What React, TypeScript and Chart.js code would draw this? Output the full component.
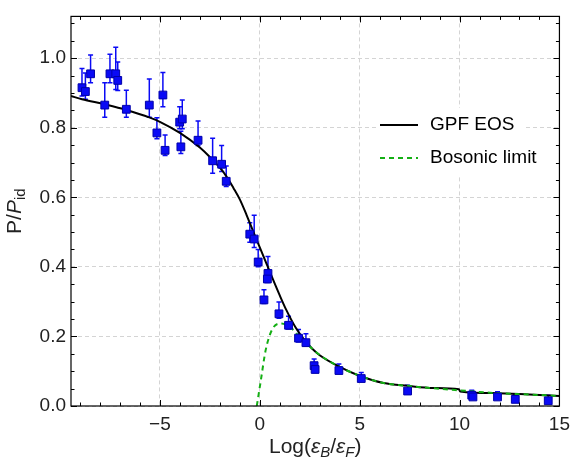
import React, { useEffect, useRef } from 'react';
import { Chart, registerables } from 'chart.js';

Chart.register(...registerables);

// ---------- data ----------
const expX = [-8.90, -8.73, -8.47, -7.76, -7.50, -7.21, -7.11, -6.68, -5.53, -4.85, -5.15, -4.74, -4.01, -3.88, -3.95, -3.09, -2.36, -1.91, -1.68,
  -0.50, -0.28, -0.08, 0.41, 0.38, 0.21, 0.96, 1.44, 1.94, 2.31, 2.72, 2.77, 3.96, 5.08, 7.40, 10.61, 10.67, 11.90, 12.79, 14.44];
const expY = [0.915, 0.904, 0.955, 0.865, 0.955, 0.955, 0.936, 0.853, 0.865, 0.894, 0.785, 0.735, 0.816, 0.825, 0.745, 0.764, 0.705, 0.695, 0.646,
  0.494, 0.480, 0.414, 0.381, 0.365, 0.305, 0.265, 0.232, 0.195, 0.182, 0.116, 0.105, 0.102, 0.079, 0.043, 0.031, 0.026, 0.026, 0.019, 0.015];
const expHi = [0.970, 0.957, 1.009, 0.929, 1.011, 1.031, 0.989, 0.908, 0.940, 0.959, 0.829, 0.779, 0.860, 0.880, 0.790, 0.819, 0.770, 0.749, 0.690,
  0.527, 0.548, 0.450, 0.430, 0.375, 0.334, 0.299, 0.258, 0.220, 0.208, 0.135, 0.113, 0.121, 0.096, 0.060, 0.045, 0.040, 0.041, 0.034, 0.031];
const expLo = [0.891, 0.882, 0.929, 0.830, 0.929, 0.910, 0.907, 0.830, 0.830, 0.860, 0.768, 0.720, 0.797, 0.797, 0.726, 0.749, 0.669, 0.674, 0.631,
  0.471, 0.456, 0.400, 0.363, 0.355, 0.295, 0.252, 0.221, 0.184, 0.173, 0.108, 0.096, 0.094, 0.071, 0.037, 0.026, 0.020, 0.020, 0.014, 0.009];

const gpfX = [-9.45, -8.9, -7.76, -6.68, -5.5, -5, -4, -3, -2.5, -2, -1.68, -1.32, -1.0, -0.66, -0.33, 0, 0.33, 0.66, 1.0, 1.32, 1.81, 2.31, 2.64, 3.0, 3.88, 4.86, 6.2, 7.4, 8.7, 9.97, 10.03, 11.83, 13.5, 15];
const gpfY = [0.891, 0.882, 0.867, 0.851, 0.829, 0.817, 0.785, 0.743, 0.716, 0.685, 0.661, 0.627, 0.594, 0.549, 0.502, 0.456, 0.410, 0.364, 0.318, 0.277, 0.224, 0.184, 0.164, 0.146, 0.116, 0.090, 0.066, 0.058, 0.052, 0.048, 0.042, 0.037, 0.033, 0.029];

const bosX = [-0.15, 0.03, 0.3, 0.63, 1.05, 1.52, 1.96, 2.34, 2.92, 3.88, 4.86, 6.2, 7.4, 8.7, 10, 11.83, 13.5, 15];
const bosY = [0.0, 0.065, 0.162, 0.221, 0.237, 0.227, 0.201, 0.180, 0.150, 0.116, 0.090, 0.066, 0.058, 0.051, 0.045, 0.037, 0.033, 0.029];

const xTicks = [-5, 0, 5, 10, 15];
const yTicks = [0, 0.2, 0.4, 0.6, 0.8, 1.0];
const legendLabels = ['GPF EOS', 'Bosonic limit'];

const X_MIN = -9.45;
const X_MAX = 15;
const Y_MIN = 0;
const Y_MAX = 1.12;
const X_MINOR = 1;
const Y_MINOR = 0.05;

const FONT = '"Liberation Sans", Arial, sans-serif';
const FS = 19;
const TITLE_FS = 21;
const BLUE = 'rgb(10,10,245)';
const GREEN = 'rgb(20,175,20)';

type Seg = { t: string; it?: boolean; sub?: boolean };

function drawSegs(ctx: CanvasRenderingContext2D, segs: Seg[], cx: number, cy: number, size: number) {
  const subSize = Math.round(size * 0.72);
  const fontOf = (s: Seg) => `${s.it ? 'italic ' : ''}${s.sub ? subSize : size}px ${FONT}`;
  let total = 0;
  const widths = segs.map((s) => {
    ctx.font = fontOf(s);
    const w = ctx.measureText(s.t).width;
    total += w;
    return w;
  });
  let x = cx - total / 2;
  ctx.textBaseline = 'middle';
  ctx.textAlign = 'left';
  segs.forEach((s, i) => {
    ctx.font = fontOf(s);
    ctx.fillText(s.t, x, cy + (s.sub ? size * 0.3 : 0));
    x += widths[i];
  });
}

const framePlugin = {
  id: 'framePlugin',
  beforeDatasetsDraw(chart: any) {
    const { ctx, scales } = chart;
    const xs = scales.x;
    const ys = scales.y;
    const area = chart.chartArea;
    ctx.save();
    ctx.beginPath();
    ctx.rect(area.left, area.top, area.right - area.left, area.bottom - area.top);
    ctx.clip();
    ctx.strokeStyle = BLUE;
    ctx.lineWidth = 1.5;
    for (let i = 0; i < expX.length; i++) {
      const px = xs.getPixelForValue(expX[i]);
      const ph = ys.getPixelForValue(expHi[i]);
      const pl = ys.getPixelForValue(expLo[i]);
      ctx.beginPath();
      ctx.moveTo(px, ph);
      ctx.lineTo(px, pl);
      ctx.moveTo(px - 2.5, ph);
      ctx.lineTo(px + 2.5, ph);
      ctx.moveTo(px - 2.5, pl);
      ctx.lineTo(px + 2.5, pl);
      ctx.stroke();
    }
    ctx.restore();
  },
  afterDatasetsDraw(chart: any) {
    const { ctx, scales } = chart;
    const xs = scales.x;
    const ys = scales.y;
    const { left, right, top, bottom } = chart.chartArea;
    ctx.save();
    // frame
    ctx.strokeStyle = '#000';
    ctx.lineWidth = 1.2;
    ctx.setLineDash([]);
    ctx.strokeRect(left, top, right - left, bottom - top);
    // ticks
    ctx.lineWidth = 1;
    ctx.beginPath();
    for (let v = Math.ceil(X_MIN); v <= X_MAX + 1e-9; v += X_MINOR) {
      const px = Math.round(xs.getPixelForValue(v)) + 0.5;
      const len = v % 5 === 0 ? 6 : 3.5;
      ctx.moveTo(px, bottom);
      ctx.lineTo(px, bottom - len);
      ctx.moveTo(px, top);
      ctx.lineTo(px, top + len);
    }
    for (let k = 0; k * Y_MINOR <= Y_MAX + 1e-9; k++) {
      const v = k * Y_MINOR;
      const py = Math.round(ys.getPixelForValue(v)) + 0.5;
      const len = k % 4 === 0 ? 6 : 3.5;
      ctx.moveTo(left, py);
      ctx.lineTo(left + len, py);
      ctx.moveTo(right, py);
      ctx.lineTo(right - len, py);
    }
    ctx.stroke();

    // legend
    const lx = 377;
    const ly = 108;
    ctx.fillStyle = '#fff';
    ctx.fillRect(lx, ly, 146, 67);
    const rows = [ly + 17, ly + 50];
    ctx.lineWidth = 2;
    ctx.strokeStyle = '#000';
    ctx.beginPath();
    ctx.moveTo(lx + 3, rows[0]);
    ctx.lineTo(lx + 41, rows[0]);
    ctx.stroke();
    ctx.strokeStyle = GREEN;
    ctx.setLineDash([5, 4]);
    ctx.beginPath();
    ctx.moveTo(lx + 3, rows[1]);
    ctx.lineTo(lx + 41, rows[1]);
    ctx.stroke();
    ctx.setLineDash([]);
    ctx.fillStyle = '#000';
    ctx.font = `${FS}px ${FONT}`;
    ctx.textBaseline = 'middle';
    ctx.textAlign = 'left';
    legendLabels.forEach((t, i) => ctx.fillText(t, lx + 53, rows[i]));

    // axis titles
    ctx.fillStyle = '#222';
    drawSegs(ctx, [
      { t: 'Log(' }, { t: 'ε', it: true }, { t: 'B', it: true, sub: true }, { t: '/' },
      { t: 'ε', it: true }, { t: 'F', it: true, sub: true }, { t: ')' },
    ], (left + right) / 2, 447, TITLE_FS);
    ctx.save();
    ctx.translate(15, (top + bottom) / 2);
    ctx.rotate(-Math.PI / 2);
    drawSegs(ctx, [{ t: 'P/' }, { t: 'P', it: true }, { t: 'id', sub: true }], 0, 0, TITLE_FS);
    ctx.restore();
    ctx.restore();
  },
};

export default function App() {
  const ref = useRef<HTMLCanvasElement | null>(null);
  useEffect(() => {
    document.body.style.margin = '0';
    const canvas = ref.current;
    if (!canvas) return;
    const chart = new Chart(canvas, {
      type: 'scatter',
      data: {
        datasets: [
          {
            label: 'data',
            data: expX.map((x, i) => ({ x, y: expY[i] })),
            pointStyle: 'rect',
            pointRadius: 5.5,
            backgroundColor: BLUE,
            borderColor: 'rgb(0,0,170)',
            borderWidth: 1,
            showLine: false,
          },
          {
            label: legendLabels[1],
            data: bosX.map((x, i) => ({ x, y: bosY[i] })),
            showLine: true,
            borderColor: GREEN,
            borderWidth: 2,
            borderDash: [5, 4],
            pointRadius: 0,
            cubicInterpolationMode: 'monotone',
          },
          {
            label: legendLabels[0],
            data: gpfX.map((x, i) => ({ x, y: gpfY[i] })),
            showLine: true,
            borderColor: '#000',
            borderWidth: 2,
            pointRadius: 0,
            cubicInterpolationMode: 'monotone',
          },
        ],
      } as any,
      options: {
        animation: false,
        responsive: false,
        devicePixelRatio: 1,
        layout: { padding: { left: 0, top: 11, right: 13, bottom: 0 } },
        plugins: { legend: { display: false }, tooltip: { enabled: false } },
        scales: {
          x: {
            type: 'linear',
            min: X_MIN,
            max: X_MAX,
            afterBuildTicks: (axis: any) => {
              axis.ticks = xTicks.map((value) => ({ value }));
            },
            afterFit: (s: any) => {
              s.height = 58;
            },
            ticks: {
              autoSkip: false,
              maxRotation: 0,
              padding: 7,
              color: '#222',
              font: { family: FONT, size: FS },
              callback: (v: any) => (Number(v) < 0 ? '\u2212' + Math.abs(Number(v)) : String(v)),
            },
            grid: { color: '#d4d4d4', drawTicks: false, lineWidth: 1 },
            border: { display: false, dash: [4, 3] },
          },
          y: {
            type: 'linear',
            min: Y_MIN,
            max: Y_MAX,
            afterBuildTicks: (axis: any) => {
              axis.ticks = yTicks.map((value) => ({ value }));
            },
            afterFit: (s: any) => {
              s.width = 71;
            },
            ticks: {
              autoSkip: false,
              padding: 5,
              color: '#222',
              font: { family: FONT, size: FS },
              callback: (v: any) => Number(v).toFixed(1),
            },
            grid: { color: '#d4d4d4', drawTicks: false, lineWidth: 1 },
            border: { display: false, dash: [4, 3] },
          },
        },
      } as any,
      plugins: [framePlugin],
    });
    return () => chart.destroy();
  }, []);
  return (
    <div style={{ width: 577, height: 464 }}>
      <canvas ref={ref} width={577} height={464} style={{ display: 'block' }} />
    </div>
  );
}
